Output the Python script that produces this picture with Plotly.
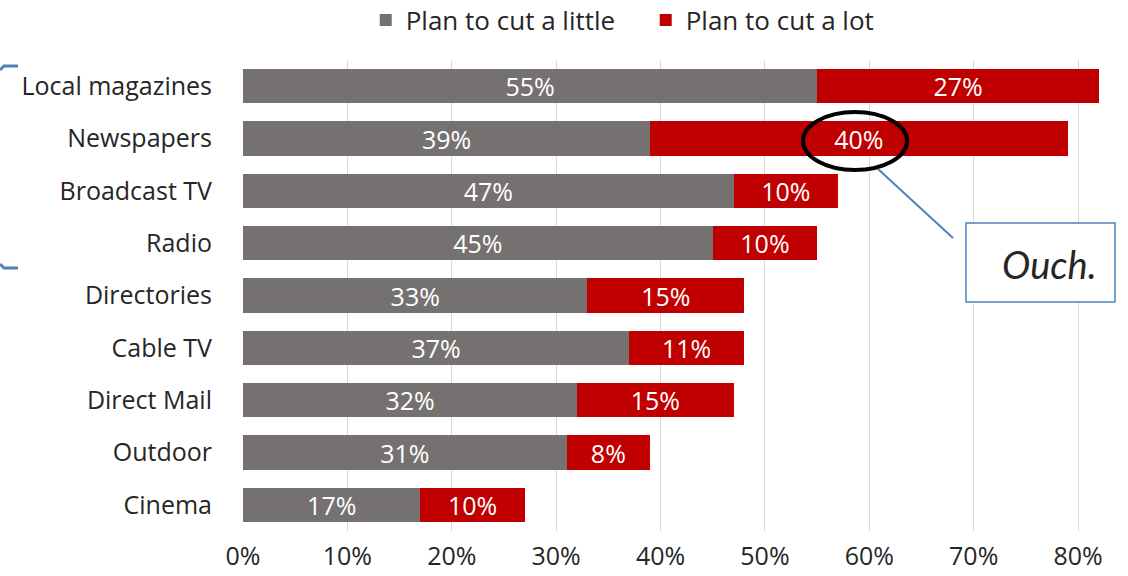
import plotly.graph_objects as go

categories = ["Local magazines", "Newspapers", "Broadcast TV", "Radio", "Directories",
              "Cable TV", "Direct Mail", "Outdoor", "Cinema"]
cut_little = [55, 39, 47, 45, 33, 37, 32, 31, 17]
cut_lot = [27, 40, 10, 10, 15, 11, 15, 8, 10]
tick_vals = [0, 10, 20, 30, 40, 50, 60, 70, 80]
tick_text = ["0%", "10%", "20%", "30%", "40%", "50%", "60%", "70%", "80%"]

FONT = "'Open Sans', sans-serif"
W, H = 1128, 576
L, R, T, B = 243, 28, 60, 45
PW, PH = W - L - R, H - T - B


def px(x):
    return (x - L) / PW


def py(y):
    return (H - B - y) / PH


fig = go.Figure()
fig.add_trace(go.Bar(
    y=categories, x=cut_little, orientation="h", name="Plan to cut a little",
    marker=dict(color="#767171", line=dict(width=0)),
    text=[f"{v}%" for v in cut_little], textposition="inside", insidetextanchor="middle",
    textfont=dict(color="white", size=25, family=FONT), width=0.65,
    constraintext="none", textangle=0,
))
fig.add_trace(go.Bar(
    y=categories, x=cut_lot, orientation="h", name="Plan to cut a lot",
    marker=dict(color="#C00000", line=dict(width=0)),
    text=[f"{v}%" for v in cut_lot], textposition="inside", insidetextanchor="middle",
    textfont=dict(color="white", size=25, family=FONT), width=0.65,
    constraintext="none", textangle=0,
))

fig.update_layout(
    barmode="stack",
    width=W, height=H,
    margin=dict(l=L, r=R, t=T, b=B, pad=0, autoexpand=False),
    plot_bgcolor="white", paper_bgcolor="white",
    font=dict(family=FONT, size=25, color="#262626"),
    uniformtext=dict(mode=False),
    legend=dict(orientation="h", x=px(370) - 0.005, y=py(20), xanchor="left", yanchor="middle",
                font=dict(size=26, color="#262626", family=FONT), traceorder="normal",
                itemsizing="constant", bgcolor="rgba(0,0,0,0)", itemwidth=30,
                entrywidth=235, entrywidthmode="pixels"),
    xaxis=dict(range=[0, 82.1], tickvals=tick_vals, ticktext=tick_text, showgrid=True,
               gridcolor="#D9D9D9", gridwidth=1, zeroline=False, showline=False,
               tickfont=dict(size=25, color="#262626", family=FONT), ticks="",
               automargin=False, ticklabelstandoff=8),
    yaxis=dict(autorange="reversed", showgrid=False, showline=False, ticks="",
               automargin=False, ticklabelstandoff=30,
               tickfont=dict(size=25, color="#262626", family=FONT)),
    bargap=0.35,
)

# ellipse around the 40% label
fig.add_shape(type="circle", xref="paper", yref="paper",
              x0=px(803), x1=px(907), y0=py(170), y1=py(112),
              line=dict(color="black", width=4), fillcolor="rgba(0,0,0,0)")
# connector line
fig.add_shape(type="line", xref="paper", yref="paper",
              x0=px(878), y0=py(169), x1=px(953), y1=py(238),
              line=dict(color="#4F81BD", width=2))
# callout box
fig.add_shape(type="rect", xref="paper", yref="paper",
              x0=px(966), x1=px(1115), y0=py(302), y1=py(223),
              line=dict(color="#4F81BD", width=1.5), fillcolor="white", layer="above")
fig.add_annotation(xref="paper", yref="paper", x=px(1049), y=py(264), text="<i>Ouch.</i>",
                   showarrow=False, font=dict(size=38, color="#262626", family="Lato, sans-serif"),
                   xanchor="center", yanchor="middle")
# bracket hooks on the left (vertical part lies off the canvas)
fig.add_shape(type="path", xref="paper", yref="paper",
              path=f"M {px(18)} {py(66)} L {px(4)} {py(66)} L {px(0)} {py(70)}",
              line=dict(color="#4F81BD", width=3))
fig.add_shape(type="path", xref="paper", yref="paper",
              path=f"M {px(18)} {py(268)} L {px(4)} {py(268)} L {px(0)} {py(264)}",
              line=dict(color="#4F81BD", width=3))

fig.write_html("out.html", post_script="document.body.style.margin='0px';",
               config={"displayModeBar": False})
